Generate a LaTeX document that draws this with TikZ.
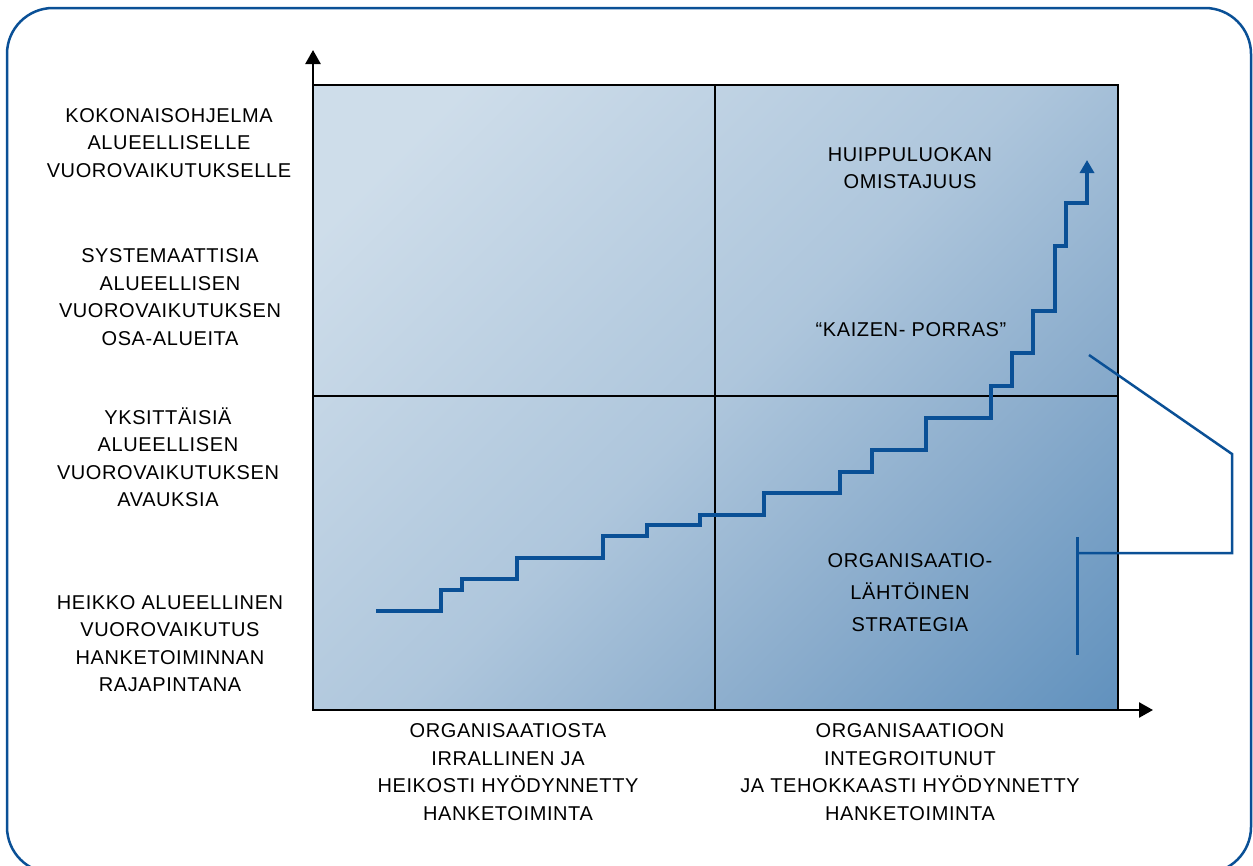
\documentclass[tikz,border=0pt]{standalone}
\usepackage{fontspec}
\setmainfont{Liberation Sans}[LetterSpace=3]
\usetikzlibrary{arrows.meta}
\definecolor{frameblue}{RGB}{10,80,150}
\definecolor{qlight}{RGB}{206,221,234}
\definecolor{qmid}{RGB}{174,198,220}
\definecolor{qlow}{RGB}{138,172,204}
\definecolor{qdark}{RGB}{98,146,190}
\pgfdeclareverticalshading{quadshade}{100bp}{color(0bp)=(qdark); color(15bp)=(qdark);
  color(33bp)=(qlow); color(50bp)=(qmid); color(78bp)=(qlight); color(100bp)=(qlight)}
\tikzset{
  lbl/.style={align=center,inner sep=0pt,font=\fontsize{20}{27.5}\selectfont},
  widelbl/.style={lbl,font=\fontsize{20}{32}\selectfont},
  stair/.style={draw=frameblue,line width=4pt},
  axisline/.style={line width=2.5pt,-{Triangle[width=15pt,length=14pt]}},
}

\begin{document}
\begin{tikzpicture}[x=1pt,y=-1pt]
\useasboundingbox (0,0) rectangle (1253,865);
\draw[frameblue,line width=2.5pt,rounded corners=46pt] (7,8) rectangle (1251,873);

% quadrants
\shade[shading=quadshade,shading angle=45] (313,85) rectangle (1118,710);
\draw[line width=2pt] (313,85) rectangle (1118,710);
\draw[line width=2pt] (715,85) -- (715,710);
\draw[line width=2pt] (313,396) -- (1118,396);

\coordinate (origin) at (313,710);
\coordinate (ytip) at (313,50);
\coordinate (xtip) at (1153,710);
\draw[axisline] (origin) -- (ytip);
\draw[axisline] (origin) -- (xtip);

% kaizen steps
\coordinate (stairstart) at (376,611);
\draw[stair,-{Triangle[width=14pt,length=13pt]}] (stairstart)
  \foreach \sx/\sy in {441/590,462/579,517/558,603/536,647/525,700/515,
    764/493,840/472,872/450,926/418,991/386,1012/353,1033/311,1055/246,
    1066/203,1087/160} { -| (\sx,\sy) };

% left axis labels
\node[lbl] (lev4) at (169,143) {KOKONAISOHJELMA\\ALUEELLISELLE\\VUOROVAIKUTUKSELLE};
\node[lbl] (lev3) at (170,297) {SYSTEMAATTISIA\\ALUEELLISEN\\VUOROVAIKUTUKSEN\\OSA-ALUEITA};
\node[lbl] (lev2) at (168,457) {YKSITTÄISIÄ\\ALUEELLISEN\\VUOROVAIKUTUKSEN\\AVAUKSIA};
\node[lbl] (lev1) at (170,643.5) {HEIKKO ALUEELLINEN\\VUOROVAIKUTUS\\HANKETOIMINNAN\\RAJAPINTANA};

% bottom axis labels
\node[lbl] (irral) at (508,772) {ORGANISAATIOSTA\\IRRALLINEN JA\\HEIKOSTI HYÖDYNNETTY\\HANKETOIMINTA};
\node[lbl] (integ) at (910,772) {ORGANISAATIOON\\INTEGROITUNUT\\JA TEHOKKAASTI HYÖDYNNETTY\\HANKETOIMINTA};

% inside labels
\node[lbl] (huippu) at (910,168) {HUIPPULUOKAN\\OMISTAJUUS};
\node[lbl] (kaizen) at (911,330) {“KAIZEN- PORRAS”};
\node[widelbl] (strat) at (910,593) {ORGANISAATIO-\\LÄHTÖINEN\\STRATEGIA};

% bracket
\coordinate (brtop) at (1089,355);
\coordinate (brmid) at (1077,553);
\draw[frameblue,line width=2.5pt] (brtop) -- (1232,454) |- (brmid);
\draw[frameblue,line width=3pt] (1077,537) -- (1077,655);
\end{tikzpicture}
\end{document}
